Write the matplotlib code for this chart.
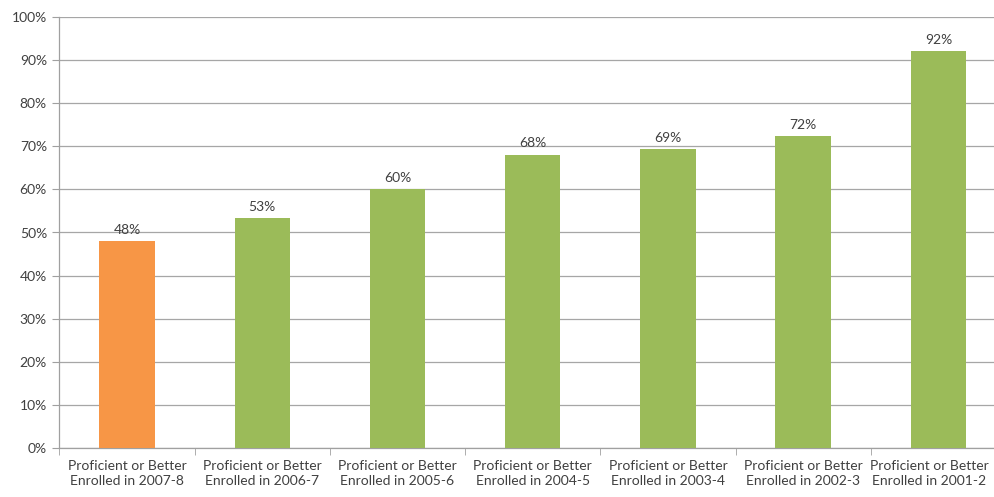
import matplotlib
matplotlib.use("Agg")
import matplotlib.pyplot as plt
import matplotlib.transforms as mtransforms
import numpy as np

categories = ["Proficient or Better\nEnrolled in 2007-8", "Proficient or Better\nEnrolled in 2006-7",
              "Proficient or Better\nEnrolled in 2005-6", "Proficient or Better\nEnrolled in 2004-5",
              "Proficient or Better\nEnrolled in 2003-4", "Proficient or Better\nEnrolled in 2002-3",
              "Proficient or Better\nEnrolled in 2001-2"]
values = [48, 53.3, 60, 68, 69.3, 72.3, 92]
colors = ["#F79646"] + ["#9BBB59"] * 6

plt.rcParams['font.family'] = ['Lato', 'DejaVu Sans']

fig = plt.figure(figsize=(9.95, 4.97), dpi=100)
W, H = 995, 497
left, right, top, bottom = 59.5, 1006, 17, 448
ax = fig.add_axes([left / W, 1 - bottom / H, (right - left) / W, (bottom - top) / H])

x = np.arange(len(values))
ax.bar(x, values, width=0.41, color=colors, zorder=3)
for xi, v in zip(x, values):
    ax.text(xi, v + 1.3, f"{v:.0f}%", ha="center", va="bottom", fontsize=10, color="#404040")

ax.set_xlim(-0.5, len(values) - 0.5)
ax.set_ylim(0, 100)
ax.set_yticks(np.arange(0, 101, 10))
ax.set_yticklabels([f"{t}%" for t in range(0, 101, 10)], fontsize=10, color="#404040")
ax.set_xticks(x)
ax.set_xticklabels(categories, fontsize=10, color="#404040", linespacing=1.25)
ax.set_xticks(np.arange(-0.5, len(values), 1), minor=True)
ax.tick_params(axis="x", which="major", length=0, pad=9)
ax.tick_params(axis="x", which="minor", length=5, color="#a0a0a0")
ax.tick_params(axis="y", length=5, color="#a0a0a0", pad=4)
ax.yaxis.grid(True, color="#a6a6a6", linewidth=0.9, zorder=0)
for s in ["top", "right"]:
    ax.spines[s].set_visible(False)
for s in ["left", "bottom"]:
    ax.spines[s].set_color("#a0a0a0")
    ax.spines[s].set_linewidth(0.9)

# Shift the last category label left so it fits inside the figure
lab = ax.get_xticklabels()[-1]
lab.set_transform(lab.get_transform() + mtransforms.ScaledTranslation(-9 / 100, 0, fig.dpi_scale_trans))

fig.savefig("out.png", dpi=100)
